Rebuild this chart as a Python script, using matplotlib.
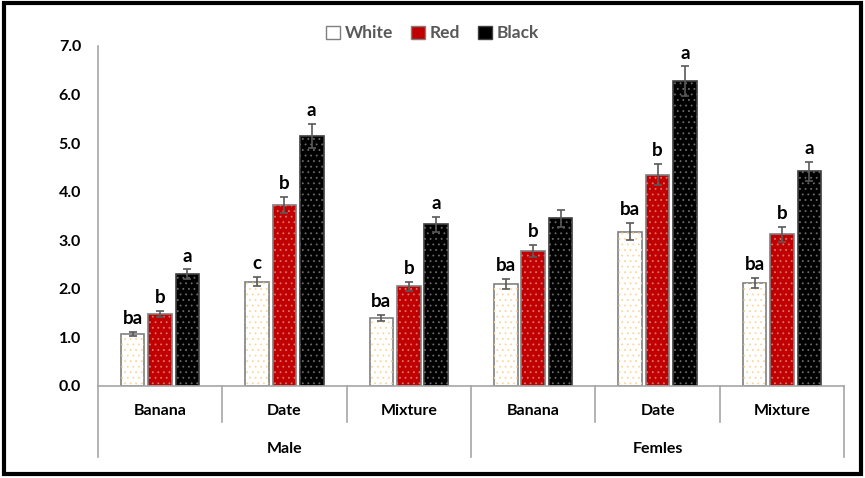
import matplotlib
matplotlib.use("Agg")
import matplotlib.pyplot as plt
from matplotlib.patches import Rectangle, Patch
import numpy as np

plt.rcParams['font.family'] = ['Lato', 'DejaVu Sans']
plt.rcParams['hatch.linewidth'] = 0.6

# sub-categories within each sex
foods = ["Banana", "Date", "Mixture", "Banana", "Date", "Mixture"]
sexes = ["Male", "Femles"]
colours = ["White", "Red", "Black"]

white_mean = [1.07, 2.15, 1.40, 2.10, 3.18, 2.12]
red_mean = [1.48, 3.73, 2.05, 2.78, 4.35, 3.12]
black_mean = [2.30, 5.15, 3.33, 3.45, 6.28, 4.42]

white_err = [0.05, 0.10, 0.07, 0.10, 0.17, 0.10]
red_err = [0.07, 0.17, 0.10, 0.13, 0.22, 0.15]
black_err = [0.10, 0.25, 0.15, 0.17, 0.30, 0.20]

white_lbl = ["ba", "c", "ba", "ba", "ba", "ba"]
red_lbl = ["b", "b", "b", "b", "b", "b"]
black_lbl = ["a", "a", "a", "", "a", "a"]

means = [white_mean, red_mean, black_mean]
errs = [white_err, red_err, black_err]
lbls = [white_lbl, red_lbl, black_lbl]
fills = ["white", "#C00000", "black"]
dots = ["#F8D89C", "#E07070", "#6A6A6A"]
edges = ["#7F7F7F", "#7F7F7F", "#404040"]

fig = plt.figure(figsize=(8.65, 4.78), dpi=100)
ax = fig.add_axes([0.113, 0.1925, 0.863, 0.7113])

x = np.arange(len(foods))
width = 0.19
offsets = [-0.22, 0.0, 0.22]

for i in range(3):
    pos = x + offsets[i]
    ax.bar(pos, means[i], width, color=fills[i], edgecolor=edges[i], linewidth=1.2, zorder=2)
    # dotted pattern on top of the fill
    ax.bar(pos, means[i], width, color="none", edgecolor=dots[i], hatch="...", linewidth=0, zorder=3)
    ax.errorbar(pos, means[i], yerr=errs[i], fmt="none", ecolor="#595959", elinewidth=1.2,
                capsize=3, capthick=1.2, zorder=4)
    for p, m, e, t in zip(pos, means[i], errs[i], lbls[i]):
        if t:
            ax.text(p, m + e + 0.1, t, ha="center", va="bottom", fontsize=13.5, fontweight="bold")

ax.set_xlim(-0.5, 5.5)
ax.set_ylim(0, 7.0)
ax.set_yticks(np.arange(0, 7.1, 1.0))
ax.set_yticklabels(["%.1f" % v for v in np.arange(0, 7.1, 1.0)], fontsize=11.5, fontweight="bold")
ax.tick_params(axis="y", length=0, pad=12)
ax.set_xticks([])
for s in ["top", "right"]:
    ax.spines[s].set_visible(False)
ax.spines["left"].set_color("#A6A6A6")
ax.spines["bottom"].set_color("#A6A6A6")
ax.spines["left"].set_linewidth(1.2)
ax.spines["bottom"].set_linewidth(1.2)

# two-level category axis
tr = ax.get_xaxis_transform()
for b in np.arange(-0.5, 6.0, 1.0):
    outer = b in (-0.5, 2.5, 5.5)
    y_end = -0.21 if outer else -0.105
    ax.plot([b, b], [0, y_end], transform=tr, color="#A6A6A6", lw=1.2, clip_on=False)
for xi, f in zip(x, foods):
    ax.text(xi, -0.075, f, transform=tr, ha="center", va="center", fontsize=11.5, fontweight="bold")
for k, s in enumerate(sexes):
    ax.text(1 + 3 * k, -0.185, s, transform=tr, ha="center", va="center", fontsize=11.5, fontweight="bold")

handles = [Patch(facecolor=fills[i], edgecolor=edges[i], label=colours[i]) for i in range(3)]
leg = fig.legend(handles=handles, loc="center", bbox_to_anchor=(0.5, 0.93), ncol=3, frameon=False,
                 fontsize=12.5, handlelength=0.8, handleheight=0.8, handletextpad=0.3, columnspacing=1.0)
for t in leg.get_texts():
    t.set_color("#595959")
    t.set_fontweight("bold")

# chart frame
fig.patches.append(Rectangle((0.005, 0.008), 0.99, 0.985, transform=fig.transFigure,
                             fill=False, edgecolor="black", linewidth=3))

fig.savefig("out.png", dpi=100)
